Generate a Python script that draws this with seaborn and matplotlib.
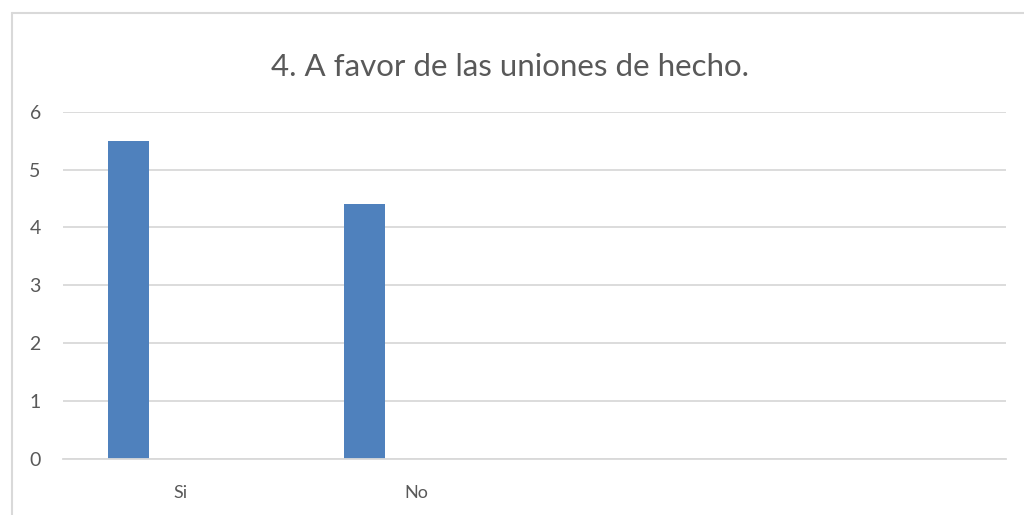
import matplotlib
matplotlib.use("Agg")
import matplotlib.pyplot as plt
import seaborn as sns
import pandas as pd
from matplotlib.lines import Line2D

categories = ["Si", "No", " ", "  "]
series_names = ["Serie 1", "Serie 2", "Serie 3"]
values_serie1 = [5.5, 4.4]
title = "4. A favor de las uniones de hecho."
yticks = [0, 1, 2, 3, 4, 5, 6]

df = pd.DataFrame({
    "categoria": categories[:2],
    "serie": [series_names[0]] * 2,
    "valor": values_serie1,
})

sns.set_theme(style="white")
plt.rcParams["font.family"] = ["Lato", "DejaVu Sans"]

fig = plt.figure(figsize=(10.24, 5.15), dpi=100)
ax = fig.add_axes([63 / 1024, 1 - 459 / 515, (1006 - 63) / 1024, (459 - 111.7) / 515])

sns.barplot(
    data=df, x="categoria", y="valor", hue="serie",
    order=categories, hue_order=series_names,
    palette=["#4F81BD", "#C0504D", "#9BBB59"],
    width=0.666, gap=0.22, dodge=True, legend=False, ax=ax,
    saturation=1, edgecolor="none",
)

ax.set_xlim(-0.5, len(categories) - 0.5)
ax.set_ylim(0, 6)
ax.set_yticks(yticks)
ax.set_yticklabels([str(t) for t in yticks])
ax.yaxis.grid(True, color="#D9D9D9", linewidth=1.3)
ax.set_axisbelow(True)
for s in ["top", "right", "left"]:
    ax.spines[s].set_visible(False)
ax.spines["bottom"].set_color("#D9D9D9")
ax.spines["bottom"].set_linewidth(1.3)
ax.tick_params(axis="both", length=0, colors="#595959")
ax.tick_params(axis="y", pad=16, labelsize=14)
ax.tick_params(axis="x", pad=19, labelsize=13)
ax.set_xlabel("")
ax.set_ylabel("")

fig.text(510 / 1024, 1 - 67 / 515, title, ha="center", va="center",
         fontsize=22.5, color="#595959")

# chart-area border (left and top)
fig.add_artist(Line2D([11.5 / 1024, 11.5 / 1024], [0, 1 - 13 / 515],
                      transform=fig.transFigure, color="#D9D9D9", linewidth=1.5))
fig.add_artist(Line2D([11.5 / 1024, 1], [1 - 13 / 515, 1 - 13 / 515],
                      transform=fig.transFigure, color="#D9D9D9", linewidth=1.5))

fig.savefig("out.png", dpi=100)
